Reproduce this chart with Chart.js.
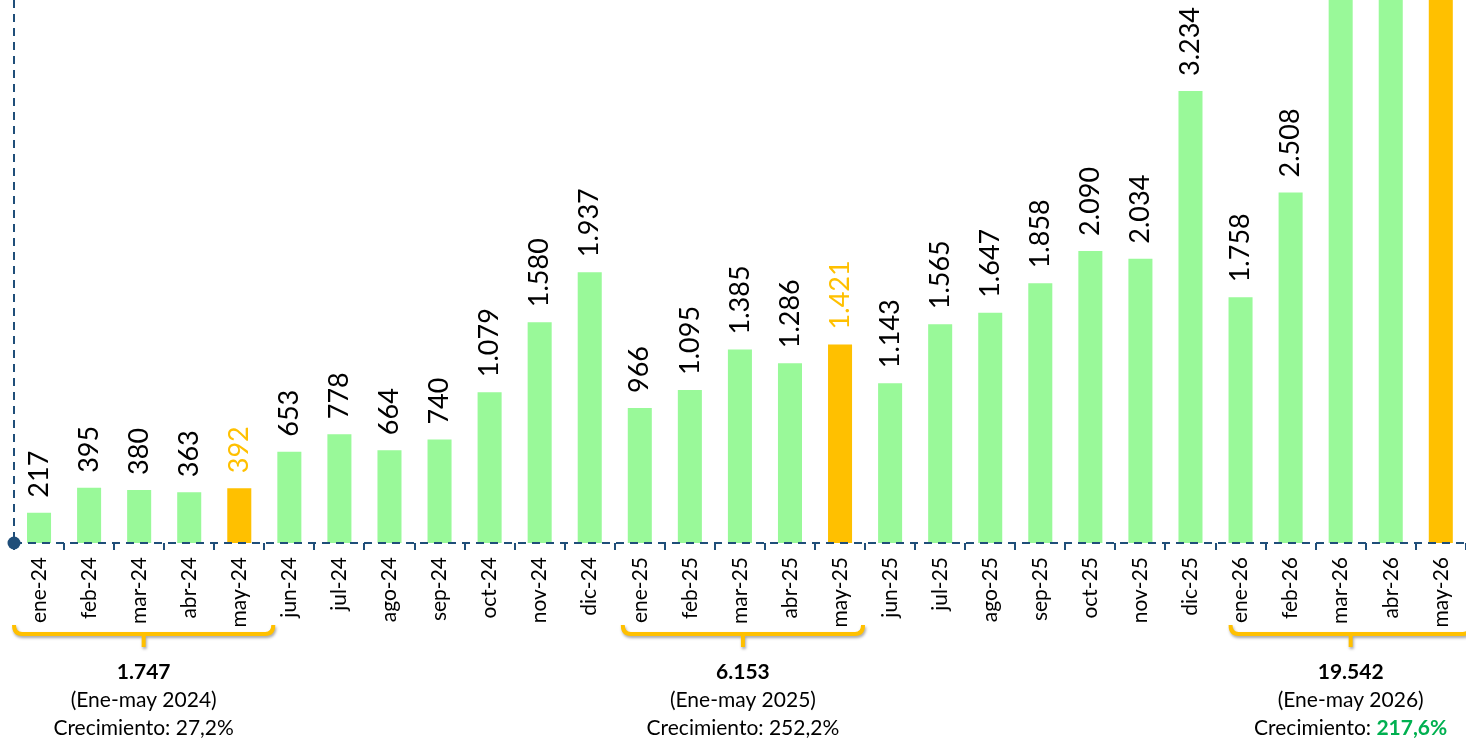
<!DOCTYPE html>
<html>
<head>
<meta charset="utf-8">
<script src="https://cdn.jsdelivr.net/npm/chart.js@4.4.1/dist/chart.umd.min.js"></script>
<style>
  html, body { margin: 0; padding: 0; background: #fff; width: 1466px; height: 740px; overflow: hidden; }
  #wrap { width: 1466px; height: 740px; overflow: hidden; position: relative; }
  #chart { position: absolute; left: 0; top: 0; }
</style>
</head>
<body>
<div id="wrap"><canvas id="chart" width="1473" height="740" style="width:1473px;height:740px"></canvas></div>
<script>
// monthly values
const months = ['ene-24','feb-24','mar-24','abr-24','may-24','jun-24','jul-24','ago-24','sep-24','oct-24','nov-24','dic-24',
                'ene-25','feb-25','mar-25','abr-25','may-25','jun-25','jul-25','ago-25','sep-25','oct-25','nov-25','dic-25',
                'ene-26','feb-26','mar-26','abr-26','may-26'];
const values = [217, 395, 380, 363, 392, 653, 778, 664, 740, 1079, 1580, 1937,
                966, 1095, 1385, 1286, 1421, 1143, 1565, 1647, 1858, 2090, 2034, 3234,
                1758, 2508, 4480, 5080, 5716];

// Ene-may summaries
const groupStart = ['ene-24', 'ene-25', 'ene-26'];
const groupEnd = ['may-24', 'may-25', 'may-26'];
const groupTotals = ['1.747', '6.153', '19.542'];
const groupPeriods = ['(Ene-may 2024)', '(Ene-may 2025)', '(Ene-may 2026)'];
const groupGrowth = ['27,2%', '252,2%', '217,6%'];

const GREEN = '#99F999';
const ORANGE = '#FFC000';
const NAVY = '#1F4E79';
const FONT = 'Lato, "Open Sans", sans-serif';

const isMay = m => m.startsWith('may');
const fmt = v => String(v).replace(/\B(?=(\d{3})+(?!\d))/g, '.');

const valueLabels = {
  id: 'valueLabels',
  afterDatasetsDraw(chart) {
    const ctx = chart.ctx;
    const meta = chart.getDatasetMeta(0);
    ctx.save();
    ctx.font = '27px ' + FONT;
    ctx.textAlign = 'left';
    ctx.textBaseline = 'middle';
    meta.data.forEach((bar, i) => {
      ctx.save();
      ctx.translate(bar.x, bar.y - 15);
      ctx.rotate(-Math.PI / 2);
      ctx.fillStyle = isMay(months[i]) ? ORANGE : '#000';
      ctx.fillText(fmt(values[i]), 0, 0);
      ctx.restore();
    });
    ctx.restore();
  }
};

const frame = {
  id: 'frame',
  afterDraw(chart) {
    const ctx = chart.ctx;
    const a = chart.chartArea;
    ctx.save();
    ctx.strokeStyle = NAVY;
    ctx.lineWidth = 2;
    ctx.setLineDash([8, 6]);
    ctx.beginPath();
    ctx.moveTo(a.left, 0);
    ctx.lineTo(a.left, a.bottom);
    ctx.stroke();
    ctx.beginPath();
    ctx.moveTo(a.left, a.bottom);
    ctx.lineTo(a.right, a.bottom);
    ctx.stroke();
    ctx.setLineDash([]);
    ctx.fillStyle = NAVY;
    ctx.beginPath();
    ctx.arc(a.left, a.bottom, 6.5, 0, Math.PI * 2);
    ctx.fill();
    ctx.restore();
  }
};

const brackets = {
  id: 'brackets',
  afterDraw(chart) {
    const ctx = chart.ctx;
    const x = chart.scales.x;
    const base = chart.chartArea.bottom;
    const padL = [25, 17, 10];
    const padR = [34, 23, 30];
    groupStart.forEach((s, g) => {
      const x1 = x.getPixelForValue(months.indexOf(s)) - padL[g];
      const x2 = x.getPixelForValue(months.indexOf(groupEnd[g])) + padR[g];
      const xm = (x1 + x2) / 2;
      const yTop = base + 82, yLine = base + 91, yNotch = base + 104;
      ctx.save();
      ctx.strokeStyle = ORANGE;
      ctx.lineWidth = 4;
      ctx.lineJoin = 'round';
      ctx.shadowColor = 'rgba(0,0,0,0.35)';
      ctx.shadowBlur = 3;
      ctx.shadowOffsetX = 1;
      ctx.shadowOffsetY = 2;
      ctx.beginPath();
      ctx.moveTo(x1, yTop);
      ctx.quadraticCurveTo(x1, yLine, x1 + 8, yLine);
      ctx.lineTo(x2 - 8, yLine);
      ctx.quadraticCurveTo(x2, yLine, x2, yTop);
      ctx.moveTo(xm, yLine);
      ctx.lineTo(xm, yNotch);
      ctx.stroke();
      ctx.restore();

      ctx.save();
      ctx.textBaseline = 'middle';
      ctx.textAlign = 'center';
      ctx.fillStyle = '#000';
      ctx.font = 'bold 21px ' + FONT;
      ctx.fillText(groupTotals[g], xm, base + 129);
      ctx.font = '21px ' + FONT;
      ctx.fillText(groupPeriods[g], xm, base + 157);
      const lead = 'Crecimiento: ';
      if (g === groupStart.length - 1) {
        ctx.textAlign = 'left';
        ctx.font = '21px ' + FONT;
        const w1 = ctx.measureText(lead).width;
        ctx.font = 'bold 21px ' + FONT;
        const w2 = ctx.measureText(groupGrowth[g]).width;
        const sx = xm - (w1 + w2) / 2;
        ctx.font = '21px ' + FONT;
        ctx.fillText(lead, sx, base + 185);
        ctx.font = 'bold 21px ' + FONT;
        ctx.fillStyle = '#00B050';
        ctx.fillText(groupGrowth[g], sx + w1, base + 185);
      } else {
        ctx.fillText(lead + groupGrowth[g], xm, base + 185);
      }
      ctx.restore();
    });
  }
};

new Chart(document.getElementById('chart'), {
  type: 'bar',
  data: {
    labels: months,
    datasets: [{
      data: values,
      backgroundColor: months.map(m => isMay(m) ? ORANGE : GREEN),
      borderWidth: 0,
      barPercentage: 0.48,
      categoryPercentage: 1
    }]
  },
  options: {
    responsive: false,
    animation: false,
    devicePixelRatio: 1,
    layout: { padding: { left: 14, right: 0, top: 0, bottom: 0 } },
    plugins: { legend: { display: false }, tooltip: { enabled: false } },
    scales: {
      x: {
        afterFit(scale) { scale.height = 197; },
        border: { display: false },
        grid: { drawOnChartArea: false, drawTicks: true, tickLength: 7, offset: true, color: NAVY, lineWidth: 2 },
        ticks: { color: '#000', font: { family: FONT, size: 21 }, minRotation: 90, maxRotation: 90, autoSkip: false, padding: 7 }
      },
      y: {
        display: false,
        min: 0,
        max: 3885
      }
    }
  },
  plugins: [valueLabels, frame, brackets]
});
</script>
</body>
</html>
